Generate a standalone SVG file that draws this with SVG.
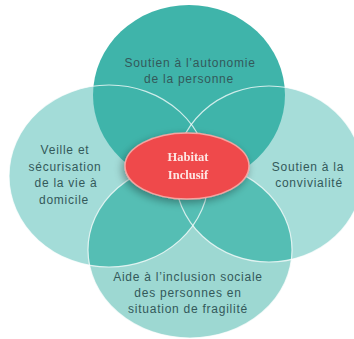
<svg xmlns="http://www.w3.org/2000/svg" xmlns:xlink="http://www.w3.org/1999/xlink" width="354" height="339" viewBox="0 0 354 339">
<style>
.lbl{font-family:"Liberation Sans","Open Sans",sans-serif;font-size:12px;letter-spacing:0.75px;fill:#33595a;text-anchor:middle}
.ctr{font-family:"Liberation Serif","DejaVu Serif",serif;font-size:12.5px;font-weight:bold;fill:#fde6e4;text-anchor:middle}
.edge{fill:none;stroke:#ffffff;stroke-opacity:0.75;stroke-width:1.2}
</style>
<defs>
<ellipse id="cTop" cx="189" cy="95" rx="96" ry="90"/>
<ellipse id="cLeft" cx="109" cy="176" rx="100" ry="91"/>
<ellipse id="cRight" cx="269" cy="174" rx="94" ry="88"/>
<ellipse id="cBottom" cx="190" cy="250" rx="102" ry="88"/>
<clipPath id="clipLeft"><use xlink:href="#cLeft"/></clipPath>
<clipPath id="clipRight"><use xlink:href="#cRight"/></clipPath>
<filter id="shadow" x="-30%" y="-40%" width="160%" height="190%">
<feGaussianBlur in="SourceAlpha" stdDeviation="4"/>
<feOffset dx="-2" dy="3" result="b"/>
<feComponentTransfer><feFuncA type="linear" slope="0.35"/></feComponentTransfer>
<feMerge><feMergeNode/><feMergeNode in="SourceGraphic"/></feMerge>
</filter>
</defs>
<g id="node-left"><use xlink:href="#cLeft" fill="#a3dcd8"/></g>
<g id="node-right"><use xlink:href="#cRight" fill="#a6ddd9"/></g>
<g id="node-bottom">
<use xlink:href="#cBottom" fill="#9dd8d2"/>
<use xlink:href="#cBottom" fill="#55beb4" clip-path="url(#clipLeft)"/>
<use xlink:href="#cBottom" fill="#55beb4" clip-path="url(#clipRight)"/>
</g>
<g id="node-top"><use xlink:href="#cTop" fill="#3fb4aa"/></g>
<g id="outlines">
<use xlink:href="#cLeft" class="edge"/>
<use xlink:href="#cRight" class="edge"/>
<use xlink:href="#cBottom" class="edge"/>
</g>
<g id="labels">
<text class="lbl" x="190" y="67">Soutien à l’autonomie</text>
<text class="lbl" x="189" y="83">de la personne</text>
<text class="lbl" x="65" y="154">Veille et</text>
<text class="lbl" x="65" y="171">sécurisation</text>
<text class="lbl" x="66" y="187">de la vie à</text>
<text class="lbl" x="64" y="204">domicile</text>
<text class="lbl" x="308" y="171">Soutien à la</text>
<text class="lbl" x="309" y="187">convivialité</text>
<text class="lbl" x="188" y="281">Aide à l’inclusion sociale</text>
<text class="lbl" x="188" y="297">des personnes en</text>
<text class="lbl" x="188" y="313">situation de fragilité</text>
</g>
<g id="node-center" filter="url(#shadow)">
<ellipse cx="187" cy="166" rx="62" ry="33" fill="#ef4a4b" stroke="#f6a3a0" stroke-width="1.5"/>
<text class="ctr" x="188" y="161">Habitat</text>
<text class="ctr" x="188" y="179">Inclusif</text>
</g>
</svg>
